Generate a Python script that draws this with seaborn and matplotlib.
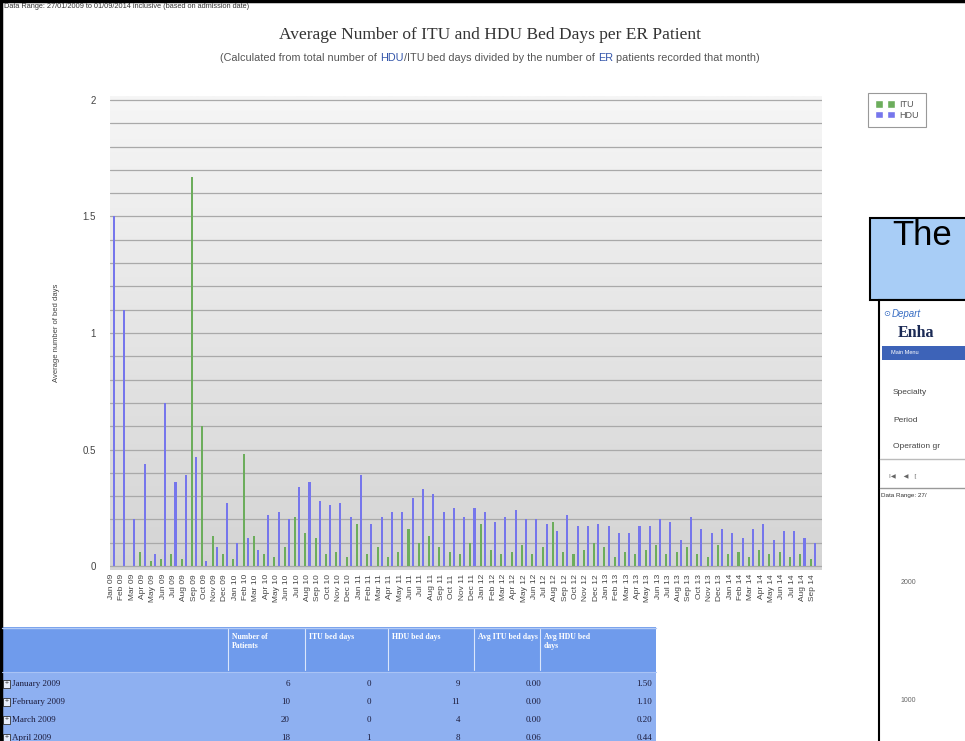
import matplotlib
matplotlib.use('Agg')
import matplotlib.pyplot as plt
from matplotlib.patches import Rectangle, Patch
from matplotlib.legend_handler import HandlerTuple
from matplotlib.colors import LinearSegmentedColormap
from matplotlib.ticker import MultipleLocator, FuncFormatter
import numpy as np
import pandas as pd
import seaborn as sns

# month labels Jan 09 .. Sep 14
months = ['Jan 09', 'Feb 09', 'Mar 09', 'Apr 09', 'May 09', 'Jun 09', 'Jul 09', 'Aug 09', 'Sep 09', 'Oct 09', 'Nov 09', 'Dec 09',
          'Jan 10', 'Feb 10', 'Mar 10', 'Apr 10', 'May 10', 'Jun 10', 'Jul 10', 'Aug 10', 'Sep 10', 'Oct 10', 'Nov 10', 'Dec 10',
          'Jan 11', 'Feb 11', 'Mar 11', 'Apr 11', 'May 11', 'Jun 11', 'Jul 11', 'Aug 11', 'Sep 11', 'Oct 11', 'Nov 11', 'Dec 11',
          'Jan 12', 'Feb 12', 'Mar 12', 'Apr 12', 'May 12', 'Jun 12', 'Jul 12', 'Aug 12', 'Sep 12', 'Oct 12', 'Nov 12', 'Dec 12',
          'Jan 13', 'Feb 13', 'Mar 13', 'Apr 13', 'May 13', 'Jun 13', 'Jul 13', 'Aug 13', 'Sep 13', 'Oct 13', 'Nov 13', 'Dec 13',
          'Jan 14', 'Feb 14', 'Mar 14', 'Apr 14', 'May 14', 'Jun 14', 'Jul 14', 'Aug 14', 'Sep 14']

itu = [0.00, 0.00, 0.00, 0.06, 0.02, 0.03, 0.05, 0.03, 1.67, 0.60, 0.13, 0.05,
       0.03, 0.48, 0.13, 0.05, 0.04, 0.08, 0.21, 0.14, 0.12, 0.05, 0.06, 0.04,
       0.18, 0.05, 0.08, 0.04, 0.06, 0.16, 0.10, 0.13, 0.08, 0.06, 0.05, 0.10,
       0.18, 0.07, 0.05, 0.06, 0.09, 0.05, 0.08, 0.19, 0.06, 0.05, 0.07, 0.10,
       0.08, 0.04, 0.06, 0.05, 0.07, 0.09, 0.05, 0.06, 0.08, 0.05, 0.04, 0.09,
       0.05, 0.06, 0.04, 0.07, 0.05, 0.06, 0.04, 0.05, 0.03]

hdu = [1.50, 1.10, 0.20, 0.44, 0.05, 0.70, 0.36, 0.39, 0.47, 0.02, 0.08, 0.27,
       0.10, 0.12, 0.07, 0.22, 0.23, 0.20, 0.34, 0.36, 0.28, 0.26, 0.27, 0.21,
       0.39, 0.18, 0.21, 0.23, 0.23, 0.29, 0.33, 0.31, 0.23, 0.25, 0.21, 0.25,
       0.23, 0.19, 0.21, 0.24, 0.20, 0.20, 0.18, 0.15, 0.22, 0.17, 0.17, 0.18,
       0.17, 0.14, 0.14, 0.17, 0.17, 0.20, 0.19, 0.11, 0.21, 0.16, 0.14, 0.16,
       0.14, 0.12, 0.16, 0.18, 0.11, 0.15, 0.15, 0.12, 0.10]

# table under the chart
table_rows = ['January 2009', 'February 2009', 'March 2009', 'April 2009']
table_patients = [6, 10, 20, 18]
table_itu_days = [0, 0, 0, 1]
table_hdu_days = [9, 11, 4, 8]
table_avg_itu = ['0.00', '0.00', '0.00', '0.06']
table_avg_hdu = ['1.50', '1.10', '0.20', '0.44']
table_header = ['Number of\nPatients', 'ITU bed days', 'HDU bed days', 'Avg ITU bed days', 'Avg HDU bed\ndays']

c_itu = '#6cad5c'
c_hdu = '#7676ec'

sns.set_style('white')
plt.rcParams['font.family'] = ['Liberation Sans', 'DejaVu Sans']

W, H = 965, 741
fig = plt.figure(figsize=(9.65, 7.41), dpi=100)

ax = fig.add_axes([110 / W, 1 - 570 / H, (822 - 110) / W, (570 - 96) / H])

df = pd.DataFrame({'month': months + months,
                   'unit': ['ITU'] * len(itu) + ['HDU'] * len(hdu),
                   'value': itu + hdu})
sns.barplot(data=df, x='month', y='value', hue='unit', hue_order=['ITU', 'HDU'],
            palette={'ITU': c_itu, 'HDU': c_hdu}, width=0.8, gap=0.5,
            saturation=1, linewidth=0, errorbar=None, legend=False, ax=ax)

# grey gradient plot background
grad = np.linspace(0, 1, 256).reshape(-1, 1)
bg = LinearSegmentedColormap.from_list('bg', ['#f6f6f6', '#d4d4d4'])
ax.imshow(grad, extent=[0, 1, 0, 1], transform=ax.transAxes, cmap=bg, aspect='auto', zorder=-1)

ax.set_xlim(-0.15, len(months) - 0.1)
ax.set_ylim(-0.017, 2.017)
ax.yaxis.set_major_locator(MultipleLocator(0.5))
ax.yaxis.set_minor_locator(MultipleLocator(0.1))
ax.yaxis.set_major_formatter(FuncFormatter(lambda v, p: f'{v:g}'))
ax.grid(axis='y', which='both', color='#a9a9a9', lw=0.9)
ax.set_axisbelow(True)
ax.tick_params(axis='y', which='both', length=7, width=0.9, color='#a9a9a9', labelsize=7, labelcolor='#444', pad=3)
ax.tick_params(axis='x', labelrotation=90, labelsize=6, length=0, pad=3, labelcolor='#444')
for s in ax.spines.values():
    s.set_visible(False)
ax.set_xlabel('')
ax.set_ylabel('Average number of bed days', fontsize=5.5, color='#444')
ax.yaxis.set_label_coords((60 - 110) / 712, 0.5)

handles = [(Patch(fc=c_itu), Patch(fc=c_itu)), (Patch(fc=c_hdu), Patch(fc=c_hdu))]
leg = ax.legend(handles, ['ITU', 'HDU'], handler_map={tuple: HandlerTuple(ndivide=None, pad=0.5)},
                loc='upper left', bbox_to_anchor=(868 / W, 1 - 93 / H), bbox_transform=fig.transFigure,
                fontsize=6.5, frameon=True, fancybox=False, framealpha=1, edgecolor='#999999',
                handlelength=2.2, handleheight=0.9, borderpad=0.8, labelspacing=0.15,
                handletextpad=0.5, borderaxespad=0)
leg.get_frame().set_linewidth(0.8)
for t in leg.get_texts():
    t.set_color('#555')

# overlay in pixel coordinates for page decorations
ov = fig.add_axes([0, 0, 1, 1], zorder=5)
ov.set_xlim(0, W)
ov.set_ylim(H, 0)
ov.axis('off')
ov.patch.set_alpha(0)

ov.plot([1, 1], [0, H], color='black', lw=2.5)
ov.plot([0, W], [1, 1], color='black', lw=2.5)

ov.text(4, 7, 'Data Range: 27/01/2009 to 01/09/2014 inclusive (based on admission date)',
        fontsize=5.3, va='center', color='#333')
ov.text(490, 35, 'Average Number of ITU and HDU Bed Days per ER Patient', ha='center', va='center',
        family='Liberation Serif', fontsize=12.5, color='#333')

# subtitle with coloured words
pieces = [('(Calculated from total number of ', '#555'), ('HDU', '#3355aa'), ('/ITU', '#555'),
          (' bed days divided by the number of ', '#555'), ('ER', '#3355aa'),
          (' patients recorded that month)', '#555')]
renderer = fig.canvas.get_renderer()
def text_w(s):
    t = ov.text(0, 0, s + '|', fontsize=7.8)
    t2 = ov.text(0, 0, '|', fontsize=7.8)
    w = t.get_window_extent(renderer).width - t2.get_window_extent(renderer).width
    t.remove()
    t2.remove()
    return w
full = ''.join(p[0] for p in pieces)
x0 = 490 - text_w(full) / 2
prefix = ''
for s, c in pieces:
    ov.text(x0 + text_w(prefix), 58, s, fontsize=7.8, color=c, va='center')
    prefix += s

# table
ov.add_patch(Rectangle((2, 627), 654, 45, fc='#6f9bec', ec='none'))
ov.add_patch(Rectangle((2, 672), 654, 70, fc='#8eb0f1', ec='none'))
ov.plot([2, 656], [628, 628], color='#b3cbf6', lw=1)
ov.plot([2, 656], [672, 672], color='#a9c3f5', lw=0.8)
hx = [228, 305, 388, 474, 540]
for x, lab in zip(hx, table_header):
    ov.plot([x, x], [629, 670], color='#dbe6fb', lw=0.8)
    ov.text(x + 4, 633, lab, family='Liberation Serif', fontsize=5.6, fontweight='bold',
            color='white', va='top', linespacing=1.1)
col_x = [290, 371, 460, 541, 652]
for i, name in enumerate(table_rows):
    y = 684 + 18 * i
    ov.add_patch(Rectangle((3, y - 4), 7, 8, fc='#e8eefc', ec='#333', lw=0.6))
    ov.text(6.5, y, '+', fontsize=5, ha='center', va='center', color='#333')
    ov.text(12, y, name, family='Liberation Serif', fontsize=6.5, va='center', color='#1c1c3c')
    vals = [table_patients[i], table_itu_days[i], table_hdu_days[i], table_avg_itu[i], table_avg_hdu[i]]
    for x, v in zip(col_x, vals):
        ov.text(x, y, str(v), family='Liberation Serif', fontsize=6.5, va='center', ha='right', color='#1c1c3c')

# overlapping window on the right
ov.add_patch(Rectangle((870, 218), 100, 82, fc='#a8cdf6', ec='black', lw=1.5))
ov.text(892, 245, 'The', fontsize=25, va='baseline', color='black')
ov.add_patch(Rectangle((879, 300), 90, 445, fc='white', ec='black', lw=1.5))
ov.text(883, 314, '\u2299', fontsize=6, va='center', color='#3a6fc4', family='DejaVu Sans')
ov.text(892, 314, 'Depart', fontsize=7, va='center', style='italic', color='#3a6fc4')
ov.text(898, 333, 'Enha', family='Liberation Serif', fontsize=11.5, fontweight='bold',
        va='center', color='#1b2a55')
ov.add_patch(Rectangle((882, 346), 85, 14, fc='#3d63b8', ec='none'))
ov.text(891, 353, 'Main Menu', fontsize=4, va='center', color='white')
ov.text(893, 392, 'Specialty', fontsize=6, va='center', color='#444')
ov.text(893, 420, 'Period', fontsize=6, va='center', color='#444')
ov.text(893, 447, 'Operation gr', fontsize=6, va='center', color='#444')
ov.plot([880, W], [459, 459], color='#bbbbbb', lw=1)
ov.plot([880, W], [488, 488], color='#999999', lw=1)
ov.text(889, 476, 'I\u25c0    \u25c0   [', fontsize=4.5, va='center', color='#666', family='DejaVu Sans')
ov.text(881, 495, 'Data Range: 27/', fontsize=4.5, va='center', color='#333')
ov.text(916, 583, '2000', fontsize=5, va='center', ha='right', color='#666')
ov.text(916, 700, '1000', fontsize=5, va='center', ha='right', color='#666')

fig.savefig('out.png', dpi=100)
